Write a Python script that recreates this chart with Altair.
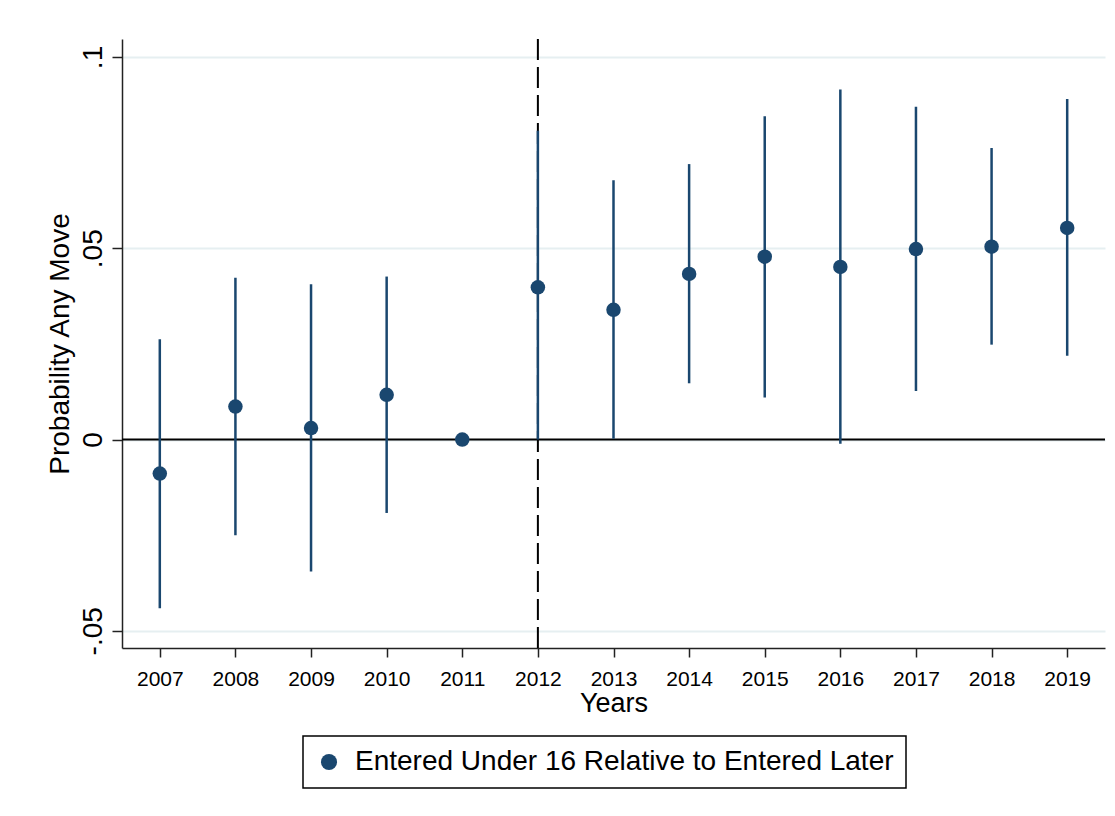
import altair as alt
import pandas as pd

years = [2007, 2008, 2009, 2010, 2011, 2012, 2013, 2014, 2015, 2016, 2017, 2018, 2019]
estimate = [-0.0089, 0.0086, 0.0030, 0.0117, 0.0, 0.0398, 0.0339, 0.0433, 0.0478, 0.0451, 0.0498, 0.0504, 0.0553]
ci_low = [-0.0441, -0.0250, -0.0345, -0.0192, None, 0.0000, 0.0002, 0.0147, 0.0110, -0.0011, 0.0127, 0.0248, 0.0219]
ci_high = [0.0262, 0.0423, 0.0406, 0.0426, None, 0.0807, 0.0678, 0.0720, 0.0845, 0.0915, 0.0870, 0.0762, 0.0890]

y_ticks = [-0.05, 0, 0.05, 0.1]
y_tick_labels = ["-.05", "0", ".05", ".1"]
series_name = "Entered Under 16 Relative to Entered Later"
event_year = 2012

navy = "#1a476f"
font = "Liberation Sans"

df = pd.DataFrame({"year": years, "est": estimate, "lo": ci_low, "hi": ci_high})
df["series"] = series_name
ci = df.dropna(subset=["lo", "hi"])

label_expr = " : ".join(
    f"datum.value == {v} ? '{t}'" for v, t in zip(y_ticks, y_tick_labels)
) + " : ''"

x_scale = alt.Scale(domain=[2006.5, 2019.5], nice=False, zero=False)
x_axis = alt.Axis(
    values=years, format="d", title="Years", grid=False,
    labelFontSize=21, titleFontSize=27, labelPadding=11, titlePadding=1,
    tickSize=9, domainWidth=1.5, tickWidth=1.5,
)
y_scale = alt.Scale(domain=[-0.0545, 0.1047], nice=False, zero=False)
y_axis = alt.Axis(
    values=y_ticks, labelExpr=label_expr, title="Probability Any Move",
    labelAngle=270, labelAlign="center", labelBaseline="bottom",
    labelFontSize=28, titleFontSize=28, labelPadding=5, titlePadding=5,
    tickSize=10, domainWidth=1.5, tickWidth=1.5,
    grid=True, gridColor="#e6eff1", gridWidth=2,
)


def xq(field):
    return alt.X(f"{field}:Q", scale=x_scale, axis=x_axis)


def yq(field):
    return alt.Y(f"{field}:Q", scale=y_scale, axis=y_axis)


zero_line = alt.Chart(pd.DataFrame({"y": [0]})).mark_rule(
    color="black", strokeWidth=2
).encode(y=yq("y"))

event_line = alt.Chart(pd.DataFrame({"x": [event_year]})).mark_rule(
    color="black", strokeWidth=2, strokeDash=[21, 7]
).encode(x=xq("x"))

bars = alt.Chart(ci).mark_rule(color=navy, strokeWidth=2.5).encode(
    x=xq("year"),
    y=yq("lo"),
    y2="hi:Q",
)

points = alt.Chart(df).mark_circle(size=210, opacity=1).encode(
    x=xq("year"),
    y=yq("est"),
    color=alt.Color(
        "series:N",
        scale=alt.Scale(domain=[series_name], range=[navy]),
        legend=alt.Legend(
            title=None, orient="none", legendX=181, legendY=697,
            strokeColor="black", padding=12,
            labelFontSize=28, labelColor="black", symbolSize=260,
            symbolType="circle", symbolOffset=0, labelOffset=12, labelLimit=800,
        ),
    ),
)

chart = alt.layer(zero_line, event_line, bars, points).properties(
    width=983,
    height=609,
    autosize=alt.AutoSizeParams(type="none"),
    padding={"left": 114, "top": 31, "right": 2, "bottom": 160},
).configure_view(stroke=None).configure_axis(
    labelFont=font, titleFont=font, labelColor="black", titleColor="black",
    domainColor="#222222", tickColor="#222222", titleFontWeight="normal",
).configure_legend(labelFont=font, strokeWidth=1.5)

chart.save("out.html", embed_options={"renderer": "svg", "actions": False})
